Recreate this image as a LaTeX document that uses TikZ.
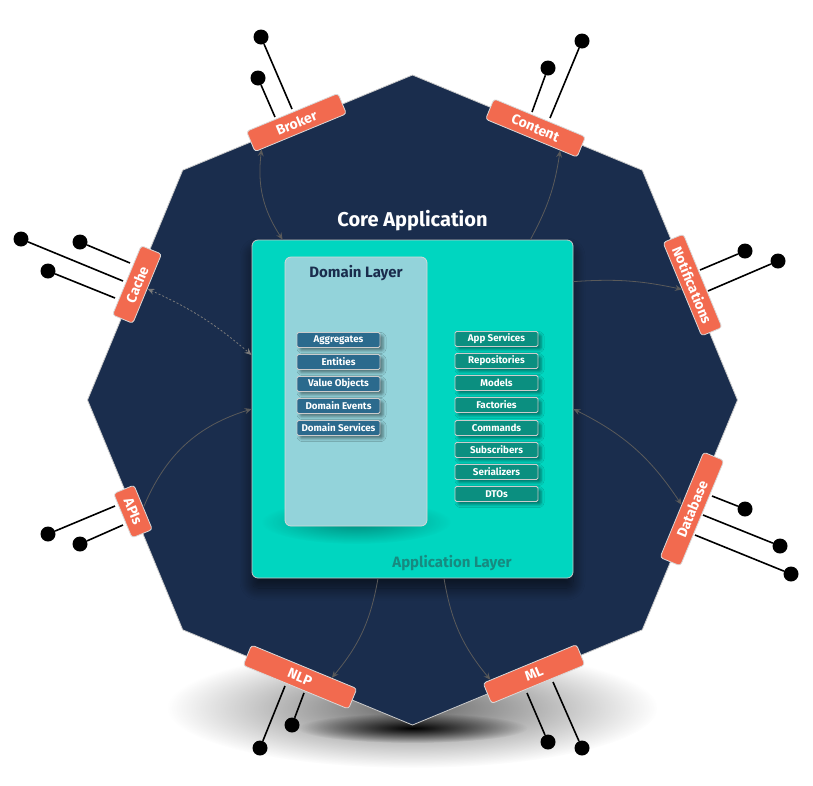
\documentclass[tikz,border=0pt]{standalone}
\usepackage{fontspec}
\setmainfont{Fira Sans}
\usetikzlibrary{arrows.meta, shadows, shadows.blur, fadings}

\definecolor{navy}{HTML}{1A2D4D}
\definecolor{coreteal}{HTML}{00D6C0}
\definecolor{domainpanel}{HTML}{93D3DA}
\definecolor{domblue}{HTML}{2B6A8D}
\definecolor{appteal}{HTML}{0B8F80}
\definecolor{portorange}{HTML}{F26A4F}
\definecolor{applayertext}{HTML}{178A80}
\definecolor{arrowgrey}{HTML}{5A5A5A}

\tikzfading[name=softfade, inner color=transparent!0, outer color=transparent!100]

\tikzset{
	>={Stealth[length=7pt, width=6pt, inset=2.5pt]},
	octagon/.style={fill=navy, draw=black!20, line width=0.8pt},
	core box/.style={rectangle, rounded corners=6pt, fill=coreteal, draw=black!22, line width=0.8pt, minimum width=321pt, minimum height=338pt, blur shadow={shadow xshift=0pt, shadow yshift=-10pt, shadow blur radius=12pt, shadow blur steps=20, shadow opacity=60}},
	domain box/.style={rectangle, rounded corners=6pt, fill=domainpanel, draw=black!15, line width=0.8pt, minimum width=142pt, minimum height=269pt},
	dom item/.style={rectangle, rounded corners=1.5pt, fill=domblue, draw=black!20, line width=0.8pt, text=white, font=\bfseries\fontsize{9.8}{11}\selectfont, minimum width=83pt, minimum height=15pt, inner sep=1pt, blur shadow={shadow xshift=3pt, shadow yshift=-3pt, shadow blur radius=3pt, shadow opacity=45}},
	app item/.style={dom item, fill=appteal},
	port/.style={rectangle, rounded corners=3pt, fill=portorange, draw=black!15, line width=0.8pt, text=white, font=\bfseries\fontsize{14}{15}\selectfont, minimum height=22pt, inner sep=1pt},
	pinhead/.style={circle, fill=black, inner sep=0pt, minimum size=15pt},
	pinline/.style={draw=black, line width=1.6pt},
	conn/.style={draw=arrowgrey, line width=0.8pt},
	cacheconn/.style={draw=arrowgrey!80, line width=0.8pt, dashed, dash pattern=on 2pt off 2pt}
}

\begin{document}
\begin{tikzpicture}[x=1pt, y=1pt]
	\useasboundingbox (0,0) rectangle (813,-785);
	\fill[black, opacity=0.6, path fading=softfade] (412.5,-708) ellipse (245pt and 60pt);
	\fill[black, path fading=softfade] (412.5,-728) ellipse (115pt and 15pt);
	\draw[octagon] (412.5,-75) -- (642.3,-170.2) -- (737.5,-400) -- (642.3,-629.8) -- (412.5,-725) -- (182.7,-629.8) -- (87.5,-400) -- (182.7,-170.2) -- cycle;

	\node[text=white, font=\bfseries\fontsize{20}{23}\selectfont] (coretitle) at (412.5,-221) {Core Application};
	\node[core box] (core) at (412.5,-409) {};
	\fill[black, opacity=0.35, path fading=softfade] (356,-522) ellipse (95pt and 22pt);
	\node[domain box] (domain) at (356,-391.5) {};
	\node[text=navy, font=\bfseries\fontsize{15}{17}\selectfont] (domtitle) at (356,-273) {Domain Layer};
	\node[text=applayertext, font=\bfseries\fontsize{15}{17}\selectfont] (applayer) at (452,-563) {Application Layer};

	\node[dom item] (agg) at (338.5,-340) {Aggregates};
	\node[dom item] (ent) at (338.5,-362) {Entities};
	\node[dom item] (vobj) at (338.5,-384) {Value Objects};
	\node[dom item] (devents) at (338.5,-406) {Domain Events};
	\node[dom item] (dservices) at (338.5,-428) {Domain Services};

	\node[app item] (appsvc) at (496.5,-339) {App Services};
	\node[app item] (repos) at (496.5,-361) {Repositories};
	\node[app item] (models) at (496.5,-383) {Models};
	\node[app item] (factories) at (496.5,-405) {Factories};
	\node[app item] (commands) at (496.5,-428) {Commands};
	\node[app item] (subs) at (496.5,-450) {Subscribers};
	\node[app item] (serial) at (496.5,-472) {Serializers};
	\node[app item] (dtos) at (496.5,-494) {DTOs};

	\node[pinhead] (bk1) at (261,-37) {};
	\node[pinhead] (bk2) at (258,-78) {};
	\node[pinhead] (ct1) at (582,-41) {};
	\node[pinhead] (ct2) at (548,-68) {};
	\node[pinhead] (ch1) at (21,-239) {};
	\node[pinhead] (ch2) at (80,-242) {};
	\node[pinhead] (ch3) at (48,-271) {};
	\node[pinhead] (ap1) at (48,-534) {};
	\node[pinhead] (ap2) at (80,-544) {};
	\node[pinhead] (nt1) at (745,-251) {};
	\node[pinhead] (nt2) at (778,-261) {};
	\node[pinhead] (db1) at (745,-509) {};
	\node[pinhead] (db2) at (780,-546) {};
	\node[pinhead] (db3) at (791,-574) {};
	\node[pinhead] (nl1) at (260,-748) {};
	\node[pinhead] (nl2) at (292,-725) {};
	\node[pinhead] (ml1) at (548,-742) {};
	\node[pinhead] (ml2) at (582,-748) {};

	\coordinate (bk1b) at (292,-109);
	\coordinate (bk2b) at (275,-117);
	\coordinate (ct1b) at (550,-118);
	\coordinate (ct2b) at (532,-112);
	\coordinate (ch1b) at (123,-281);
	\coordinate (ch2b) at (130,-263);
	\coordinate (ch3b) at (115,-298);
	\coordinate (ap1b) at (115,-506);
	\coordinate (ap2b) at (123,-525);
	\coordinate (nt1b) at (700,-270);
	\coordinate (nt2b) at (708,-291);
	\coordinate (db1b) at (712,-496);
	\coordinate (db2b) at (703,-515);
	\coordinate (db3b) at (695,-535);
	\coordinate (nl1b) at (285,-686);
	\coordinate (nl2b) at (304,-693);
	\coordinate (ml1b) at (527,-693);
	\coordinate (ml2b) at (553,-682);

	\draw[pinline] (bk1) -- (bk1b);
	\draw[pinline] (bk2) -- (bk2b);
	\draw[pinline] (ct1) -- (ct1b);
	\draw[pinline] (ct2) -- (ct2b);
	\draw[pinline] (ch1) -- (ch1b);
	\draw[pinline] (ch2) -- (ch2b);
	\draw[pinline] (ch3) -- (ch3b);
	\draw[pinline] (ap1) -- (ap1b);
	\draw[pinline] (ap2) -- (ap2b);
	\draw[pinline] (nt1) -- (nt1b);
	\draw[pinline] (nt2) -- (nt2b);
	\draw[pinline] (db1) -- (db1b);
	\draw[pinline] (db2) -- (db2b);
	\draw[pinline] (db3) -- (db3b);
	\draw[pinline] (nl1) -- (nl1b);
	\draw[pinline] (nl2) -- (nl2b);
	\draw[pinline] (ml1) -- (ml1b);
	\draw[pinline] (ml2) -- (ml2b);

	\node[port, minimum width=99pt, rotate=22.5] (broker) at (296.5,-122.5) {Broker};
	\node[port, minimum width=99pt, rotate=-22.5] (content) at (535.5,-128) {Content};
	\node[port, minimum width=75pt, rotate=67.5] (cache) at (137,-284.5) {Cache};
	\node[port, minimum width=48pt, rotate=-67.5] (apis) at (133,-511.5) {APIs};
	\node[port, minimum width=101pt, rotate=-67.5] (notif) at (692.5,-285) {Notifications};
	\node[port, minimum width=114pt, rotate=67.5] (database) at (692,-509) {Database};
	\node[port, minimum width=114pt, rotate=-22.5] (nlp) at (300,-677) {NLP};
	\node[port, minimum width=101pt, rotate=22.5] (ml) at (534,-674) {ML};

	\draw[conn, <->] (broker.-165) to[bend right=20] ([xshift=31pt]core.north west);
	\draw[conn, ->] ([xshift=-43pt]core.north east) to[bend right=10] (content.-20);
	\draw[cacheconn, <->] (cache.south) to[bend left=8] ([yshift=54pt]core.west);
	\draw[conn, ->] (apis.north) to[bend left=25] (core.west);
	\draw[conn, ->] ([yshift=-42pt]core.north east) to[bend left=8] (notif.south);
	\draw[conn, <->] (core.east) to[bend left=15] (database.north);
	\draw[conn, ->] ([xshift=-34.5pt]core.south) to[bend left=15] (nlp.21);
	\draw[conn, ->] ([xshift=31.5pt]core.south) to[bend right=15] (ml.165);
\end{tikzpicture}
\end{document}
